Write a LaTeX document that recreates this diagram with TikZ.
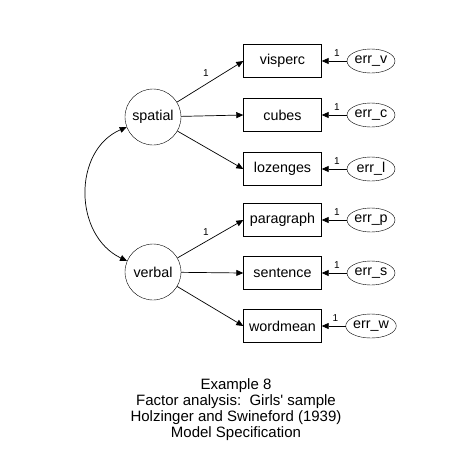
\documentclass[tikz,border=0pt]{standalone}
\usepackage{fontspec}
\setmainfont{Liberation Sans}
\usetikzlibrary{shapes.geometric,arrows.meta}
\begin{document}
\begin{tikzpicture}[x=1pt,y=-1pt,
  every node/.style={font=\fontsize{14.3}{16}\selectfont},
  obs/.style={draw,rectangle,minimum width=78pt,minimum height=33pt,inner sep=0pt},
  lat/.style={draw,circle,minimum size=56pt,inner sep=0pt},
  err/.style={draw,ellipse,minimum width=48pt,minimum height=24pt,inner sep=0pt},
  arr/.style={line width=0.7pt,-{Triangle[length=7pt,width=6pt]}},
  one/.style={font=\fontsize{10}{10}\selectfont,inner sep=0pt}]
\useasboundingbox (0,0) rectangle (475,475);
\node[lat] (spatial) at (153,117) {spatial};
\node[lat] (verbal) at (153,272) {verbal};
\node[obs] (visperc) at (282.5,61) {visperc};
\node[obs] (cubes) at (282.5,115) {cubes};
\node[obs] (lozenges) at (282.5,169) {lozenges};
\node[obs] (paragraph) at (282.5,220) {paragraph};
\node[obs] (sentence) at (282.5,273) {sentence};
\node[obs] (wordmean) at (282.5,326) {wordmean};
\node[err] (ev) at (371,61) {err\_v};
\node[err] (ec) at (371,115) {err\_c};
\node[err] (el) at (371,169) {err\_l};
\node[err] (ep) at (371,220) {err\_p};
\node[err] (es) at (371,273) {err\_s};
\node[err] (ew) at (371,326) {err\_w};
\draw[arr] (spatial) -- (visperc.west);
\draw[arr] (spatial) -- (cubes.west);
\draw[arr] (spatial) -- (lozenges.west);
\draw[arr] (verbal) -- (paragraph.west);
\draw[arr] (verbal) -- (sentence.west);
\draw[arr] (verbal) -- (wordmean.west);
\node[one] (l1) at (206,73) {1};
\node[one] (l2) at (206,232) {1};
\foreach \e/\b in {ev/visperc,ec/cubes,el/lozenges,ep/paragraph,es/sentence,ew/wordmean}{
  \draw[arr] (\e.west) -- (\b.east);
  \node[one] at ([xshift=-10pt,yshift=8pt]\e.west) {1};
}
\draw[line width=0.7pt,{Triangle[length=7pt,width=6pt]}-{Triangle[length=7pt,width=6pt]}]
  (spatial.201) .. controls (73,150) and (73,235) .. (verbal.157);
\node[align=center,font=\fontsize{15}{16}\selectfont] (title) at (236,410)
  {Example 8\\Factor analysis:\ \ Girls\textquotesingle\ sample\\Holzinger and Swineford (1939)\\Model Specification};
\end{tikzpicture}
\end{document}
